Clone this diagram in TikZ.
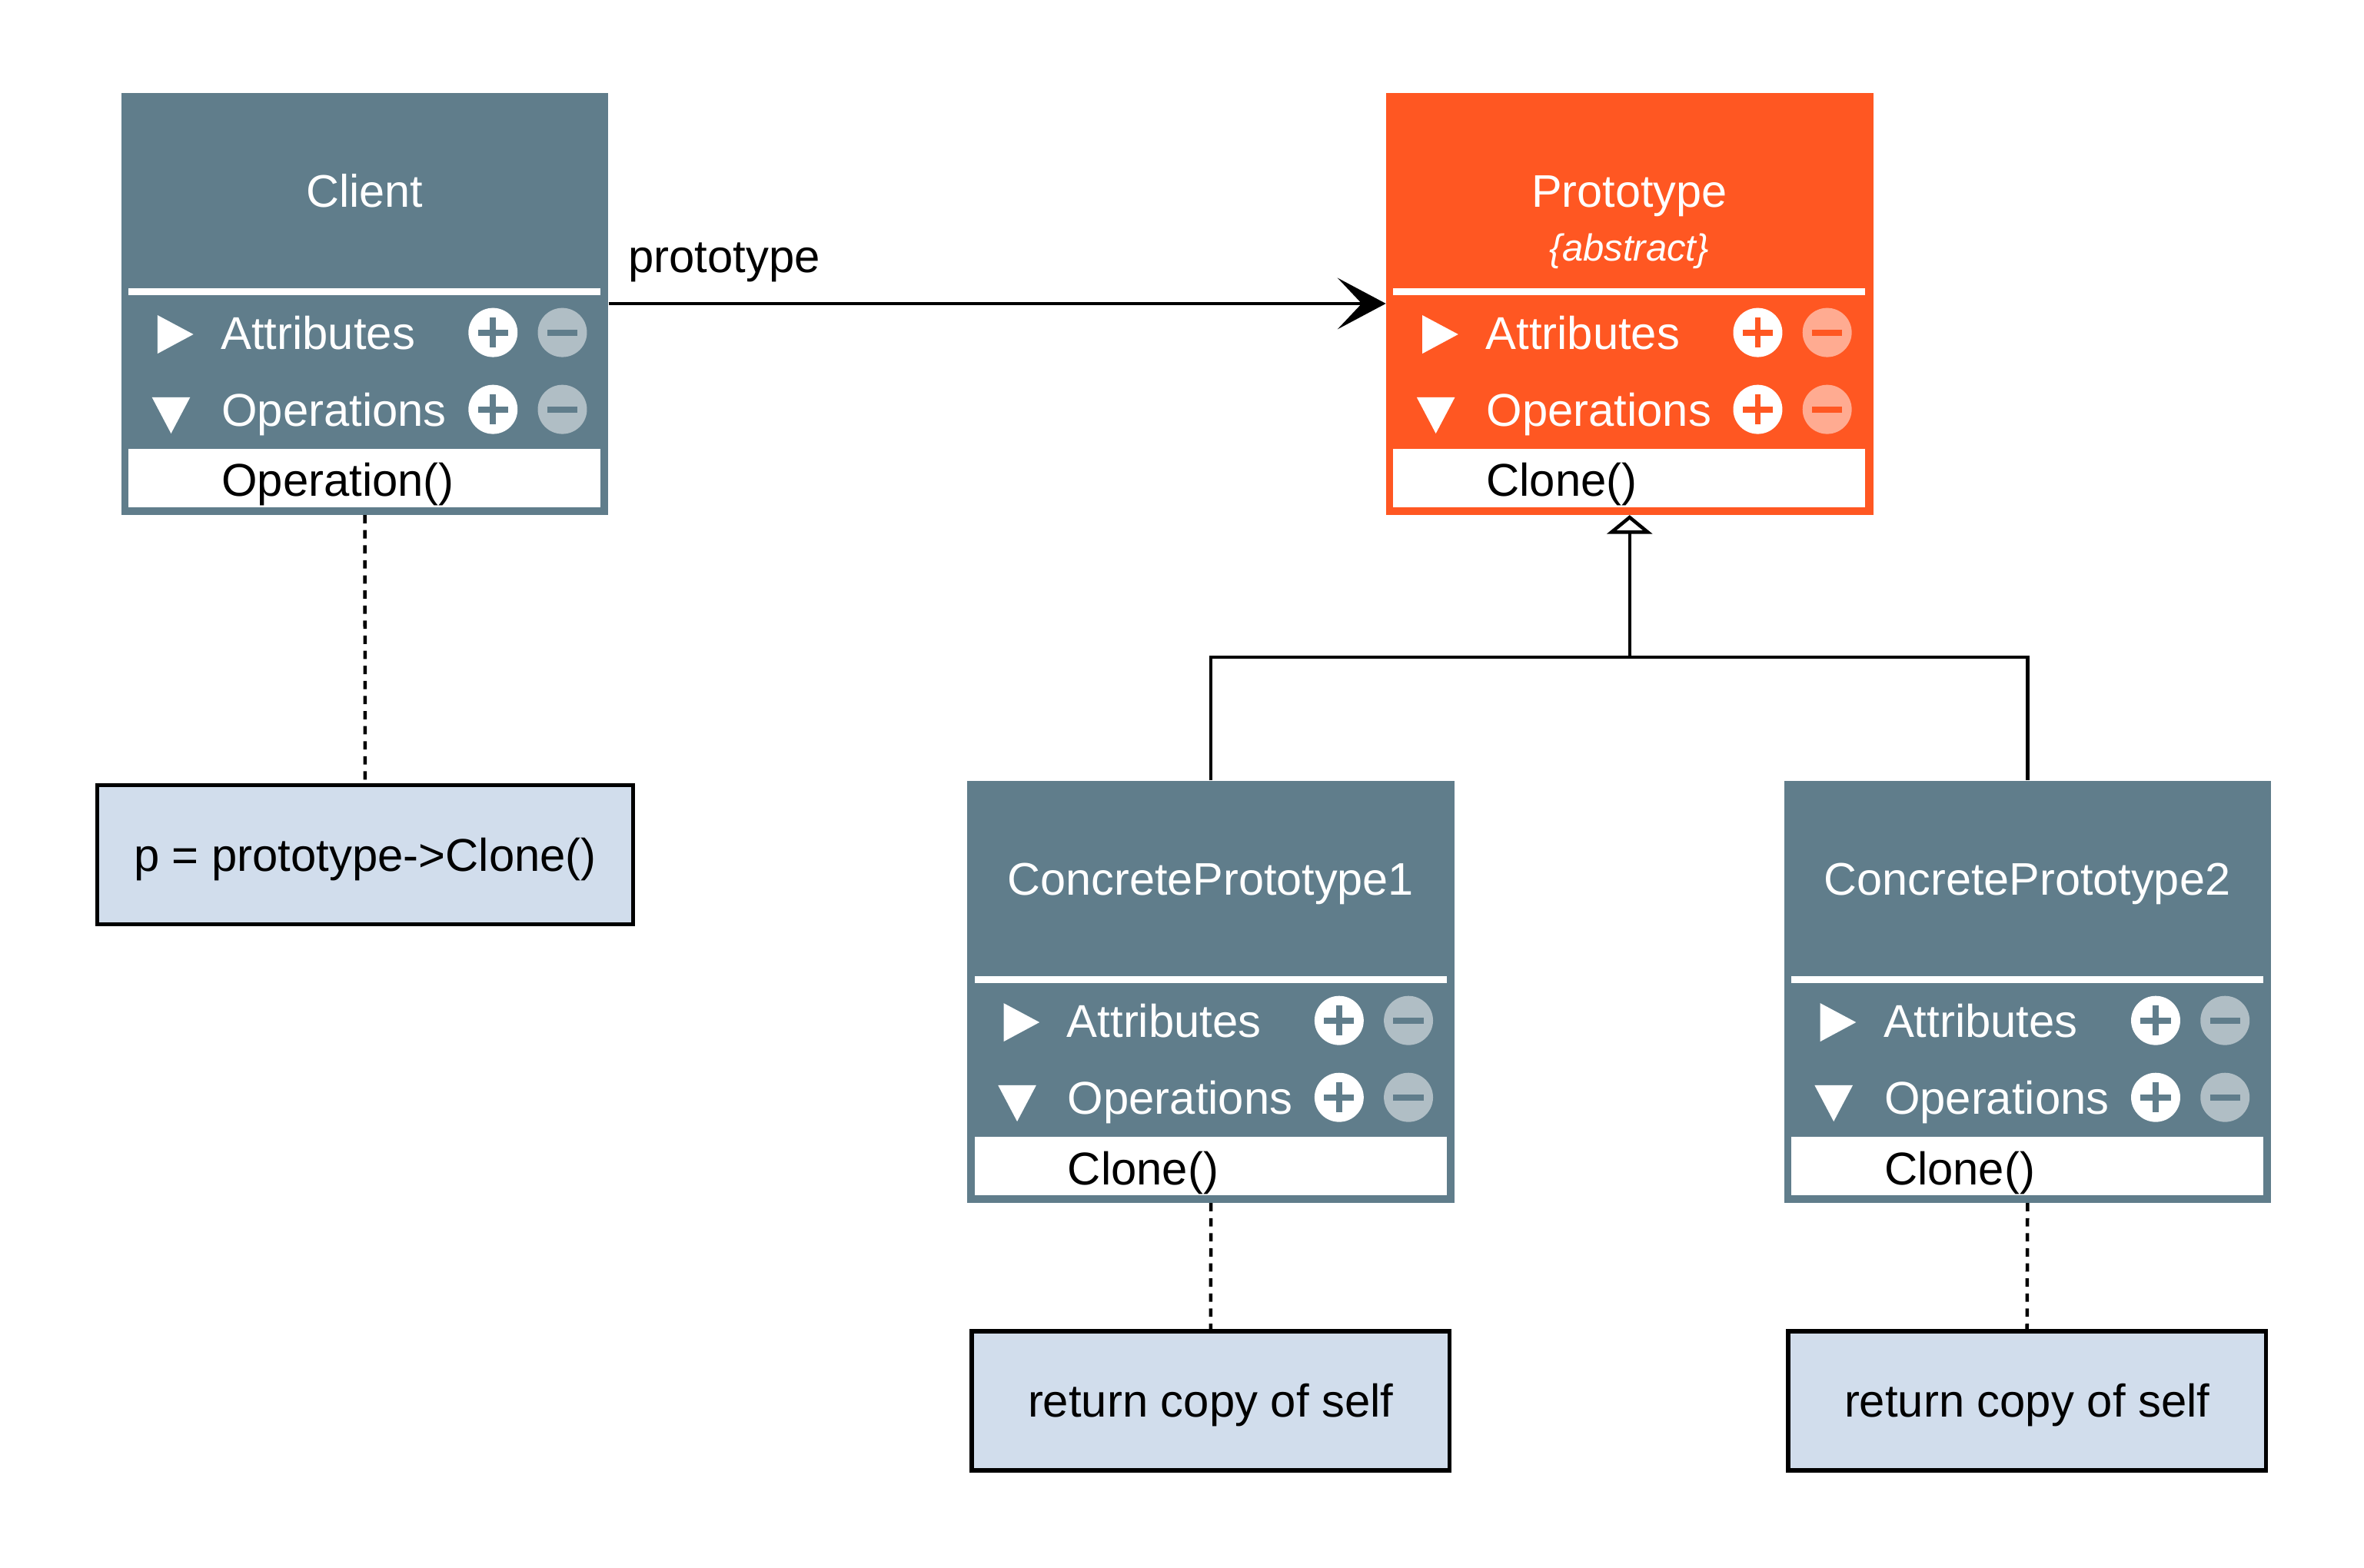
\documentclass[tikz,border=0pt]{standalone}
\usepackage{fontspec}
\setmainfont{Liberation Sans}
\usetikzlibrary{arrows.meta}

\definecolor{slate}{HTML}{607D8B}
\definecolor{slatelight}{HTML}{B0BEC5}
\definecolor{flame}{HTML}{FF5722}
\definecolor{flamelight}{HTML}{FFAB91}
\definecolor{notefill}{HTML}{D1DDEC}

\tikzset{
  classbody/.style={rectangle, inner sep=0pt, minimum width=323pt, minimum height=280pt, draw=none},
  titletext/.style={inner sep=0pt, text=white, font=\fontsize{30.3}{36}\selectfont},
  kindtext/.style={inner sep=0pt, text=white, font=\fontsize{25}{30}\selectfont\itshape},
  rowtext/.style={inner sep=0pt, text=white, font=\fontsize{30.5}{36}\selectfont},
  optext/.style={inner sep=0pt, text=black, font=\fontsize{30.5}{36}\selectfont},
  notebox/.style={rectangle, draw=black, line width=2.8pt, fill=notefill, inner sep=0pt,
    minimum height=92.3pt, text height=21.5pt, text depth=0pt, font=\fontsize{30.5}{36}\selectfont},
  link/.style={draw=black, line width=2.3pt},
  noteline/.style={link, dash pattern=on 5.5pt off 4.5pt},
}

% UML class box: name, left, top, body colour, minus-button colour, title, extra title code, operation
\newcommand\classbox[8]{%
  \node[classbody, fill=#4, anchor=north west] (#1) at (#2,#3) {};
  \begin{scope}[shift={(#1.north west)}]
    % title compartment
    \node[titletext, anchor=base] (#1-title) at (161.5,75.9) {#6};
    #7
    \fill[white] (5,130.1) rectangle (318,134.7);
    % attributes row
    \fill[white] (24.2,147.8) -- (48,160.5) -- (24.2,173.3) -- cycle;
    \node[rowtext, anchor=base west] (#1-attr) at (66,170.5) {Attributes};
    \fill[white] (246.7,159.3) circle[radius=16.3pt];
    \fill[#4] (236.7,157.3) rectangle (256.7,161.3);
    \fill[#4] (244.7,149.3) rectangle (248.7,169.3);
    \fill[#5] (292.7,159.3) circle[radius=16.3pt];
    \fill[#4] (282.7,157.3) rectangle (302.7,161.3);
    % operations row
    \fill[white] (20.5,202.3) -- (45.8,202.3) -- (33.15,226.3) -- cycle;
    \node[rowtext, anchor=base west] (#1-ops) at (66.5,221.3) {Operations};
    \fill[white] (246.7,210.3) circle[radius=16.3pt];
    \fill[#4] (236.7,208.3) rectangle (256.7,212.3);
    \fill[#4] (244.7,200.3) rectangle (248.7,220.3);
    \fill[#5] (292.7,210.3) circle[radius=16.3pt];
    \fill[#4] (282.7,208.3) rectangle (302.7,212.3);
    % operation list
    \fill[white] (5,236.7) rectangle (318,275.1);
    \node[optext, anchor=base west] (#1-op) at (66.5,268.1) {#8};
  \end{scope}%
}

\begin{document}
\begin{tikzpicture}[x=1pt, y=-1pt]
  \useasboundingbox (0,0) rectangle (1568,1040);

  % classes
  \classbox{client}{80.3}{61.3}{slate}{slatelight}{Client}{}{Operation()}
  \classbox{proto}{919.2}{61.3}{flame}{flamelight}{Prototype}%
    {\node[kindtext, anchor=base] (proto-kind) at (161.5,111.7) {\{abstract\}};}{Clone()}
  \classbox{cp1}{641.5}{517.7}{slate}{slatelight}{ConcretePrototype1}{}{Clone()}
  \classbox{cp2}{1183.1}{517.7}{slate}{slatelight}{ConcretePrototype2}{}{Clone()}

  % notes
  \node[notebox, minimum width=355.2pt] (clientnote) at (242.2,567) {p = prototype->Clone()};
  \node[notebox, minimum width=316.8pt] (cp1note) at (803,929.4) {return copy of self};
  \node[notebox, minimum width=316.8pt] (cp2note) at (1344.5,929.4) {return copy of self};

  % association
  \coordinate (assocrow) at (0,201.4);
  \draw[link, -{Stealth[length=32pt, width=34pt, inset=16pt]}]
    (client.east |- assocrow) -- (proto.west |- assocrow);
  \node[optext, anchor=base west] (assoclabel) at (416.6,180.7) {prototype};

  % generalization
  \coordinate (genrow) at (0,436);
  \coordinate (junction) at (proto.south |- genrow);
  \draw[link] (cp1.north) |- (junction) -| (cp2.north);
  \draw[link, -{Triangle[open, length=12.5pt, width=30pt, fill=white]}] (junction) -- (proto.south);

  % note attachments
  \draw[noteline] (client.south) -- (clientnote.north);
  \draw[noteline] (cp1.south) -- (cp1note.north);
  \draw[noteline] (cp2.south) -- (cp2note.north);
\end{tikzpicture}
\end{document}
